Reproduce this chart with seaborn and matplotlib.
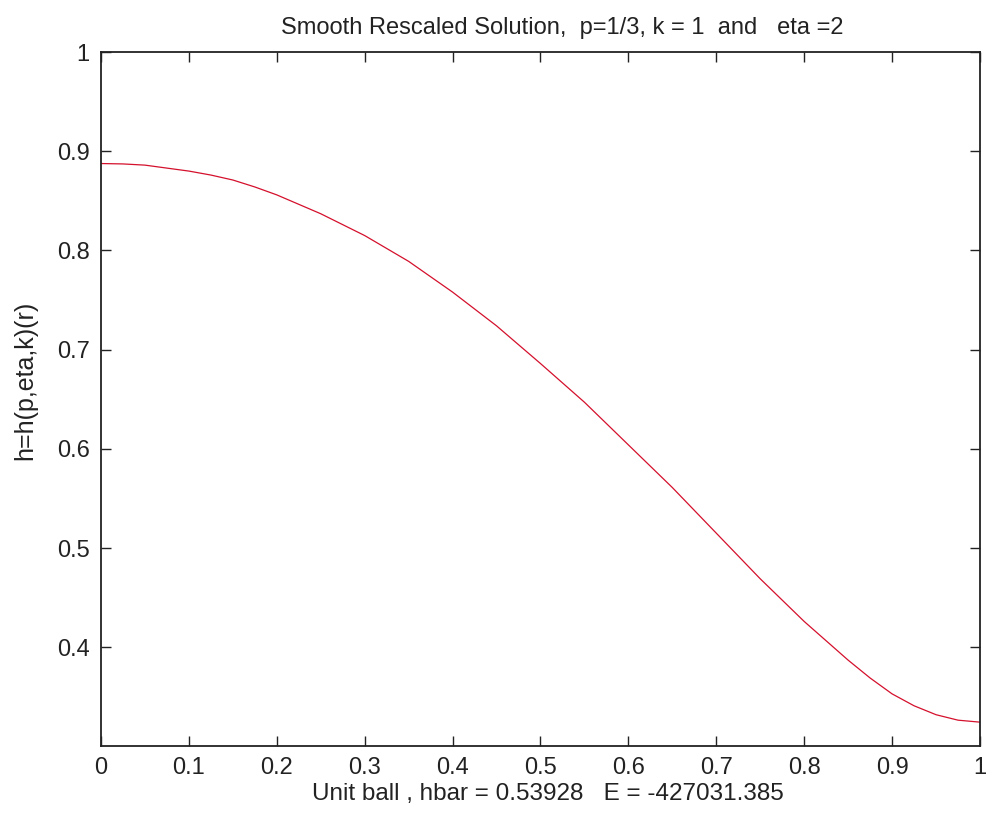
import numpy as np
import pandas as pd
import seaborn as sns
import matplotlib.pyplot as plt

# values
r = [0.0, 0.025, 0.05, 0.1, 0.125, 0.15, 0.175, 0.2, 0.25, 0.3, 0.35, 0.4, 0.45, 0.5,
     0.55, 0.6, 0.65, 0.7, 0.75, 0.8, 0.85, 0.875, 0.9, 0.925, 0.95, 0.975, 1.0]
h = [0.8876, 0.8872, 0.886, 0.880, 0.876, 0.871, 0.864, 0.856, 0.837, 0.815, 0.789, 0.758,
     0.724, 0.686, 0.647, 0.604, 0.561, 0.515, 0.469, 0.426, 0.387, 0.369, 0.353, 0.341,
     0.332, 0.3265, 0.3245]
xticks = [0, 0.1, 0.2, 0.3, 0.4, 0.5, 0.6, 0.7, 0.8, 0.9, 1]
xticklabels = ['0', '0.1', '0.2', '0.3', '0.4', '0.5', '0.6', '0.7', '0.8', '0.9', '1']
yticks = [0.4, 0.5, 0.6, 0.7, 0.8, 0.9, 1]
yticklabels = ['0.4', '0.5', '0.6', '0.7', '0.8', '0.9', '1']

df = pd.DataFrame({'r': r, 'h': h})

sns.set_style('white')
plt.rcParams['font.family'] = ['Liberation Sans', 'DejaVu Sans']

fig = plt.figure(figsize=(9.89, 8.22), dpi=100)
ax = fig.add_axes([0.1021, 0.0925, 0.8888, 0.8442])
sns.lineplot(data=df, x='r', y='h', color='#d4102c', linewidth=0.9, ax=ax)

ax.set_xlim(0, 1)
ax.set_ylim(0.3005, 1)
ax.set_xticks(xticks)
ax.set_xticklabels(xticklabels)
ax.set_yticks(yticks)
ax.set_yticklabels(yticklabels)
ax.tick_params(direction='in', length=7, width=1, colors='#222222', labelsize=17,
               top=True, right=True, bottom=True, left=True, pad=8)
for s in ax.spines.values():
    s.set_color('#222222')
    s.set_linewidth(1.3)

ax.set_title('Smooth Rescaled Solution,  p=1/3, k = 1  and   eta =2', fontsize=17,
             pad=13, color='#222222', x=0.525)
ax.set_xlabel('Unit ball , hbar = 0.53928   E = -427031.385', fontsize=17.5, labelpad=3,
              color='#222222', x=0.508)
ax.set_ylabel('h=h(p,eta,k)(r)', fontsize=18, labelpad=14, color='#222222', y=0.527)

plt.savefig('out.png', dpi=100)
